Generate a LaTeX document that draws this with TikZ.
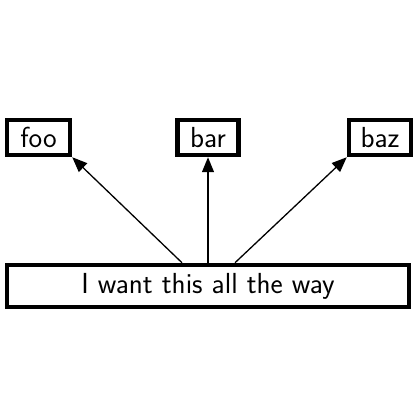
\documentclass[tikz,border=0pt]{standalone}
\usetikzlibrary{arrows.meta}
\begin{document}
\begin{tikzpicture}[x=1pt,y=1pt,
  box/.style={draw,line width=4.5pt,inner sep=0pt,font=\sffamily\fontsize{29}{34}\selectfont},
  conn/.style={line width=1.3pt,-{Triangle[length=15pt,width=12pt]}}]
\useasboundingbox (0,0) rectangle (420,420);
\node[box,minimum width=402pt,minimum height=42pt] (low) at (208,134) {I want this all the way};
\node[box,minimum width=63pt,minimum height=35pt] (foo) at (38.5,282.5) {foo};
\node[box,minimum width=61pt,minimum height=35pt] (bar) at (208,282.5) {bar};
\node[box,minimum width=62pt,minimum height=35pt] (baz) at (380,282.5) {baz};
\draw[conn] ([xshift=-26pt]low.north) -- (foo.south east);
\draw[conn] (low.north) -- (bar.south);
\draw[conn] ([xshift=27pt]low.north) -- (baz.south west);
\end{tikzpicture}
\end{document}
